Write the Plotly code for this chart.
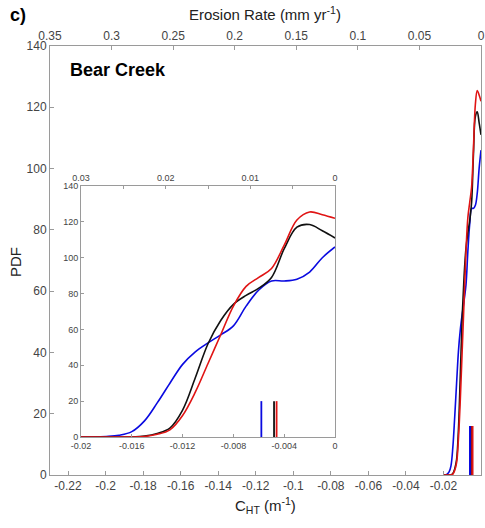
import plotly.graph_objects as go

# ---- data ----
c_ht = [-0.020, -0.019, -0.018, -0.017, -0.016, -0.015, -0.014, -0.013, -0.012, -0.011,
        -0.010, -0.009, -0.008, -0.007, -0.006, -0.005, -0.004, -0.003, -0.002, -0.001, 0.0]
pdf_blue = [0, 0, 0.3, 1, 3, 9, 19, 30, 40.5, 47.5, 52.5, 57, 62, 73, 82, 87, 87, 88, 92, 100, 106]
pdf_black = [0, 0, 0, 0, 0, 0.5, 2, 5, 15, 33, 52, 65, 74, 79, 83, 89, 105, 117, 118.5, 115, 111]
pdf_red = [0, 0, 0, 0, 0, 0.3, 1.5, 4, 12, 25, 41, 57, 73, 84, 89, 94, 107, 121, 125.5, 124, 122]

mean_x = {"blue": -0.0058, "black": -0.0048, "red": -0.0046}
bar_h_inset = 20
bar_h_main = 16

main_x_ticks = [-0.22, -0.20, -0.18, -0.16, -0.14, -0.12, -0.10, -0.08, -0.06, -0.04, -0.02]
main_x_text = ["-0.22", "-0.2", "-0.18", "-0.16", "-0.14", "-0.12", "-0.1", "-0.08", "-0.06", "-0.04", "-0.02"]
erosion_ticks = [0.35, 0.30, 0.25, 0.20, 0.15, 0.10, 0.05, 0.0]
erosion_text = ["0.35", "0.3", "0.25", "0.2", "0.15", "0.1", "0.05", "0"]
inset_x_ticks = [-0.020, -0.016, -0.012, -0.008, -0.004, 0.0]
inset_x_text = ["-0.02", "-0.016", "-0.012", "-0.008", "-0.004", "0"]
inset_erosion_ticks = [0.03, 0.02, 0.01, 0.0]
inset_erosion_text = ["0.03", "0.02", "0.01", "0"]
y_ticks = [0, 20, 40, 60, 80, 100, 120, 140]

colors = {"blue": "#0a0ae0", "black": "#111111", "red": "#e01414"}
series = [("blue", pdf_blue), ("black", pdf_black), ("red", pdf_red)]

FONT = "Arial, Liberation Sans, sans-serif"
AX = "#9a9a9a"
TICKC = "#444444"

fig = go.Figure()

# main plot curves
for name, ys in series:
    fig.add_trace(go.Scatter(x=c_ht, y=ys, mode="lines",
                             line=dict(color=colors[name], width=1.6, shape="spline", smoothing=1.0),
                             xaxis="x", yaxis="y", showlegend=False, hoverinfo="skip"))
for name in ["blue", "black", "red"]:
    fig.add_trace(go.Scatter(x=[mean_x[name], mean_x[name]], y=[0, bar_h_main], mode="lines",
                             line=dict(color=colors[name], width=2.2), xaxis="x", yaxis="y",
                             showlegend=False, hoverinfo="skip"))
# invisible trace for the top erosion axis
fig.add_trace(go.Scatter(x=erosion_ticks, y=[0] * len(erosion_ticks), mode="lines",
                         line=dict(width=0, color="rgba(0,0,0,0)"),
                         xaxis="x2", yaxis="y", showlegend=False, hoverinfo="skip"))

# inset curves
for name, ys in series:
    fig.add_trace(go.Scatter(x=c_ht, y=ys, mode="lines",
                             line=dict(color=colors[name], width=1.6, shape="spline", smoothing=1.0),
                             xaxis="x3", yaxis="y3", showlegend=False, hoverinfo="skip"))
for name in ["blue", "black", "red"]:
    fig.add_trace(go.Scatter(x=[mean_x[name], mean_x[name]], y=[0, bar_h_inset], mode="lines",
                             line=dict(color=colors[name], width=1.8), xaxis="x3", yaxis="y3",
                             showlegend=False, hoverinfo="skip"))
fig.add_trace(go.Scatter(x=inset_erosion_ticks, y=[0] * len(inset_erosion_ticks), mode="lines",
                         line=dict(width=0, color="rgba(0,0,0,0)"),
                         xaxis="x4", yaxis="y3", showlegend=False, hoverinfo="skip"))

common = dict(showgrid=False, zeroline=False, showline=True, linecolor=AX, linewidth=1, automargin=False,
              ticks="inside", ticklen=4, tickcolor=AX, tickfont=dict(family=FONT, size=12, color=TICKC))
inset_common = dict(showgrid=False, zeroline=False, showline=True, linecolor=AX, linewidth=1, automargin=False,
                    ticks="inside", ticklen=3, tickcolor=AX, tickfont=dict(family=FONT, size=9, color=TICKC))

ix0, ix1 = 0.0719, 0.6613
iy0, iy1 = 0.0886, 0.6737

fig.update_layout(
    width=485, height=528,
    margin=dict(l=50, r=4, t=46, b=53, autoexpand=False),
    paper_bgcolor="white", plot_bgcolor="white",
    font=dict(family=FONT, color="#222"),
    xaxis=dict(domain=[0, 1], range=[-0.2296, 0], tickvals=main_x_ticks, ticktext=main_x_text,
               anchor="y", **common),
    xaxis2=dict(range=[0.35, 0], tickvals=erosion_ticks, ticktext=erosion_text, overlaying="x",
                side="top", anchor="y", **common),
    yaxis=dict(domain=[0, 1], range=[0, 140], tickvals=y_ticks, mirror=True, anchor="x", **common),
    xaxis3=dict(domain=[ix0, ix1], range=[-0.02, 0], tickvals=inset_x_ticks, ticktext=inset_x_text,
                anchor="y3", **inset_common),
    xaxis4=dict(range=[0.03, 0], tickvals=inset_erosion_ticks, ticktext=inset_erosion_text,
                overlaying="x3", side="top", anchor="y3",
                minor=dict(tickvals=[0.025, 0.015, 0.005], ticks="inside", ticklen=3, tickcolor=AX),
                **inset_common),
    yaxis3=dict(domain=[iy0, iy1], range=[0, 140], tickvals=y_ticks, mirror=True, anchor="x3", **inset_common),
    annotations=[
        dict(text="<b>c)</b>", x=-0.0974, y=1.073, xref="paper", yref="paper", xanchor="left", yanchor="middle",
             showarrow=False, font=dict(size=18, family=FONT, color="black")),
        dict(text="Erosion Rate (mm yr<sup>-1</sup>)", x=0.499, y=1.0746, xref="paper", yref="paper",
             xanchor="center", yanchor="middle", showarrow=False, font=dict(size=15, family=FONT, color="#222")),
        dict(text="<b>Bear Creek</b>", x=0.0418, y=0.944, xref="paper", yref="paper", xanchor="left",
             yanchor="middle", showarrow=False, font=dict(size=18, family=FONT, color="black")),
        dict(text="PDF", x=-0.081, y=0.4965, xref="paper", yref="paper", textangle=-90,
             xanchor="center", yanchor="middle", showarrow=False, font=dict(size=15, family=FONT, color="#222")),
        dict(text="C<sub>HT</sub> (m<sup>-1</sup>)", x=0.499, y=-0.07, xref="paper", yref="paper",
             xanchor="center", yanchor="middle", showarrow=False, font=dict(size=15, family=FONT, color="#222")),
    ],
)

fig.write_html("out.html", config={"displayModeBar": False},
               post_script="document.body.style.margin='0px';")
